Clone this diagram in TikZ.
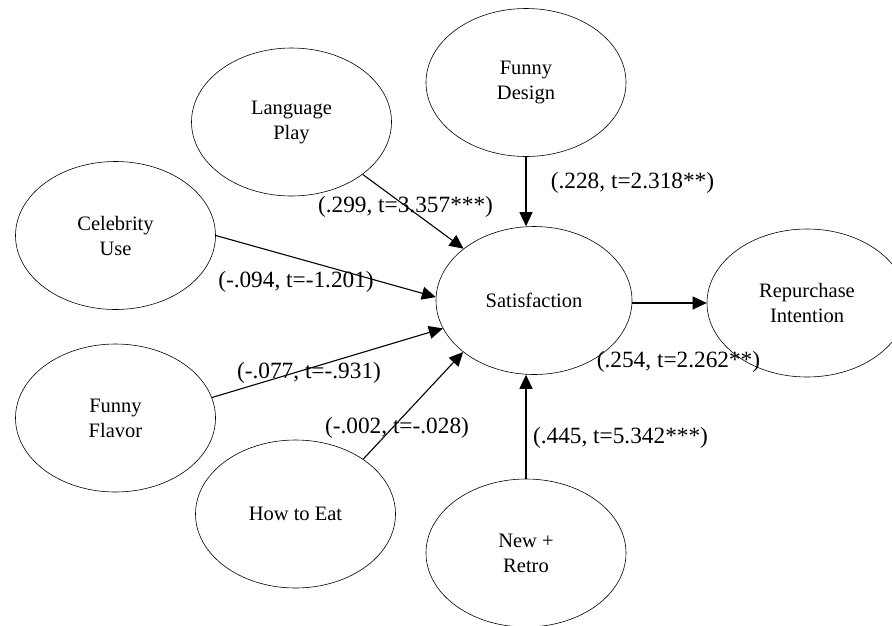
\documentclass[tikz,border=0pt]{standalone}
\usepackage{fontspec}
\setmainfont{Liberation Serif}
\usetikzlibrary{shapes.geometric,arrows.meta}
\begin{document}
\begin{tikzpicture}[x=1pt,y=-1pt,
  construct/.style={ellipse,draw,line width=0.6pt,minimum width=200pt,minimum height=148pt,inner sep=0pt,align=center,font=\fontsize{20.5}{25}\selectfont},
  path/.style={line width=1.1pt,-{Triangle[length=14pt,width=13pt]}},
  coef/.style={inner sep=0pt,font=\fontsize{23.3}{28}\selectfont}]
\useasboundingbox (0,0) rectangle (892,625);
\fill[white] (0,0) rectangle (892,625);
\node[construct] (lp) at (291.5,122) {Language\\Play};
\node[construct] (fd) at (526,82.5) {Funny\\Design};
\node[construct] (cu) at (115.5,235.5) {Celebrity\\Use};
\node[construct,minimum width=196pt] (sat) at (534,300.5) {Satisfaction};
\node[construct] (rep) at (807,303) {Repurchase\\Intention};
\node[construct] (ff) at (115.5,418) {Funny\\Flavor};
\node[construct] (hte) at (295.5,514) {How to Eat};
\node[construct] (nr) at (526,553) {New +\\Retro};
\draw[path] (lp) -- (sat);
\draw[path] (fd.south) -- (fd.south |- sat.north);
\draw[path] (cu.east) -- (sat.178);
\draw[path] (ff.12) -- (sat.197);
\draw[path] (hte.39) -- (sat.216);
\draw[path] (nr.north) -- (nr.north |- sat.south);
\draw[path] (sat.east |- rep.west) -- (rep.west);
\node[coef] (c1) at (405.5,207) {(.299, t=3.357***)};
\node[coef] (c2) at (296,282) {(-.094, t=-1.201)};
\node[coef] (c3) at (632.5,183) {(.228, t=2.318**)};
\node[coef] (c4) at (309,372.5) {(-.077, t=-.931)};
\node[coef] (c5) at (397,428) {(-.002, t=-.028)};
\node[coef] (c6) at (678.5,362) {(.254, t=2.262**)};
\node[coef] (c7) at (620.5,437.5) {(.445, t=5.342***)};
\end{tikzpicture}
\end{document}
